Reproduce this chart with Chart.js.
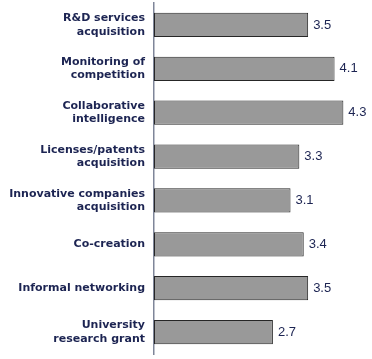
<!DOCTYPE html>
<html>
<head>
<meta charset="utf-8">
<script src="https://cdn.jsdelivr.net/npm/chart.js@4"></script>
<style>
  html, body { margin: 0; padding: 0; background: #fff; }
  #wrap { width: 372px; height: 359px; }
</style>
</head>
<body>
<div id="wrap"><canvas id="barChart"></canvas></div>
<script>
// categories (multi-line labels) and values
const categories = [
    ['R&D services', 'acquisition'],
    ['Monitoring of', 'competition'],
    ['Collaborative', 'intelligence'],
    ['Licenses/patents', 'acquisition'],
    ['Innovative companies', 'acquisition'],
    'Co-creation',
    'Informal networking',
    ['University', 'research grant']
];
const scores = [3.5, 4.1, 4.3, 3.3, 3.1, 3.4, 3.5, 2.7];

const navy = '#1c2452';

// draw value next to each bar
const valueLabels = {
    id: 'valueLabels',
    afterDatasetsDraw(chart) {
        const ctx = chart.ctx;
        const meta = chart.getDatasetMeta(0);
        ctx.save();
        ctx.font = '13px "Liberation Sans", Arial, sans-serif';
        ctx.fillStyle = navy;
        ctx.textBaseline = 'middle';
        meta.data.forEach((bar, i) => {
            ctx.fillText(scores[i].toFixed(1), bar.x + 5, bar.y);
        });
        ctx.restore();
    }
};

const barData = {
    labels: categories,
    datasets: [{
        data: scores,
        backgroundColor: '#999999',
        borderColor: '#262626',
        borderWidth: 1,
        borderSkipped: false,
        barPercentage: 0.55,
        categoryPercentage: 1
    }]
};

const barConfig = {
    type: 'bar',
    data: barData,
    options: {
        indexAxis: 'y',
        responsive: true,
        maintainAspectRatio: false,
        animation: false,
        layout: { padding: { top: 3, bottom: 5, right: 0, left: 0 } },
        plugins: { legend: { display: false }, tooltip: { enabled: false } },
        scales: {
            x: {
                display: false,
                min: 0,
                max: 4.95
            },
            y: {
                grid: { display: false, drawTicks: false },
                border: { color: '#7f8699', width: 1.5 },
                afterFit(scale) {
                    scale.width = 154;
                    scale.paddingTop = 0;
                    scale.paddingBottom = 0;
                },
                ticks: {
                    color: navy,
                    padding: 9,
                    font: { family: '"DejaVu Sans", sans-serif', size: 11, weight: 'bold', lineHeight: 1.22 }
                }
            }
        }
    },
    plugins: [valueLabels]
};

var barChart = new Chart(document.getElementById('barChart'), barConfig);
</script>
</body>
</html>
